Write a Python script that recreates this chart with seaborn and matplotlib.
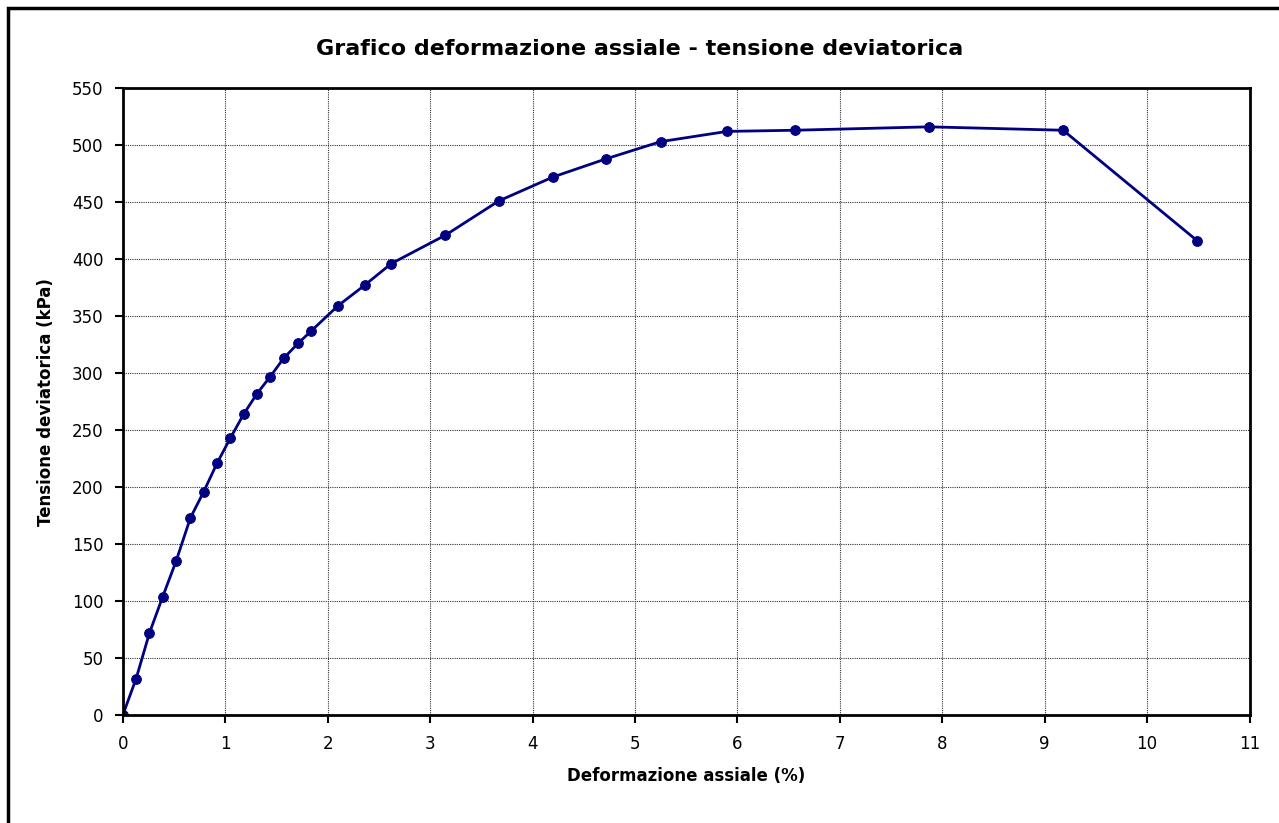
import numpy as np
import pandas as pd
import seaborn as sns
import matplotlib.pyplot as plt
from matplotlib.patches import Rectangle

# deformazione assiale (%) e tensione deviatorica (kPa)
deformazione = [0.0, 0.13, 0.26, 0.39, 0.52, 0.66, 0.79, 0.92, 1.05, 1.18,
                1.31, 1.44, 1.57, 1.71, 1.84, 2.10, 2.36, 2.62, 3.15, 3.67,
                4.20, 4.72, 5.25, 5.90, 6.56, 7.87, 9.18, 10.49]
tensione = [0, 32, 72, 104, 135, 173, 196, 221, 243, 264,
            282, 297, 313, 326, 337, 359, 377, 396, 421, 451,
            472, 488, 503, 512, 513, 516, 513, 416]

titolo = 'Grafico deformazione assiale - tensione deviatorica'
label_x = 'Deformazione assiale (%)'
label_y = 'Tensione deviatorica (kPa)'

df = pd.DataFrame({'x': deformazione, 'y': tensione})

sns.set_style('white')
plt.rcParams['font.family'] = ['DejaVu Sans']
plt.rcParams['text.color'] = 'black'
plt.rcParams['axes.labelcolor'] = 'black'

fig = plt.figure(figsize=(12.79, 8.23), dpi=100)
ax = fig.add_axes([0.096, 0.131, 0.881, 0.762])

sns.lineplot(data=df, x='x', y='y', ax=ax, color='#000080', linewidth=2,
             marker='o', markersize=7, markeredgecolor='#000080', sort=False)

ax.set_xlim(0, 11)
ax.set_ylim(0, 550)
ax.set_xticks(np.arange(0, 12, 1))
ax.set_yticks(np.arange(0, 551, 50))
ax.grid(True, color='#333333', linestyle=(0, (1, 1)), linewidth=0.8)
for s in ax.spines.values():
    s.set_color('black')
    s.set_linewidth(2)
ax.tick_params(axis='both', direction='out', length=6, width=1.5,
               labelsize=12, colors='black', bottom=True, left=True, pad=8)

ax.set_xlabel(label_x, fontsize=12, fontweight='bold', labelpad=10, color='black')
ax.set_ylabel(label_y, fontsize=12, fontweight='bold', labelpad=12, color='black')
fig.text(0.5, 0.94, titolo, ha='center', va='center', fontsize=16,
         fontweight='bold', color='black')

fig.patches.append(Rectangle((0.006, -0.01), 1.0, 1.0, transform=fig.transFigure,
                             fill=False, edgecolor='black', linewidth=2.5))

fig.savefig('out.png', dpi=100)
